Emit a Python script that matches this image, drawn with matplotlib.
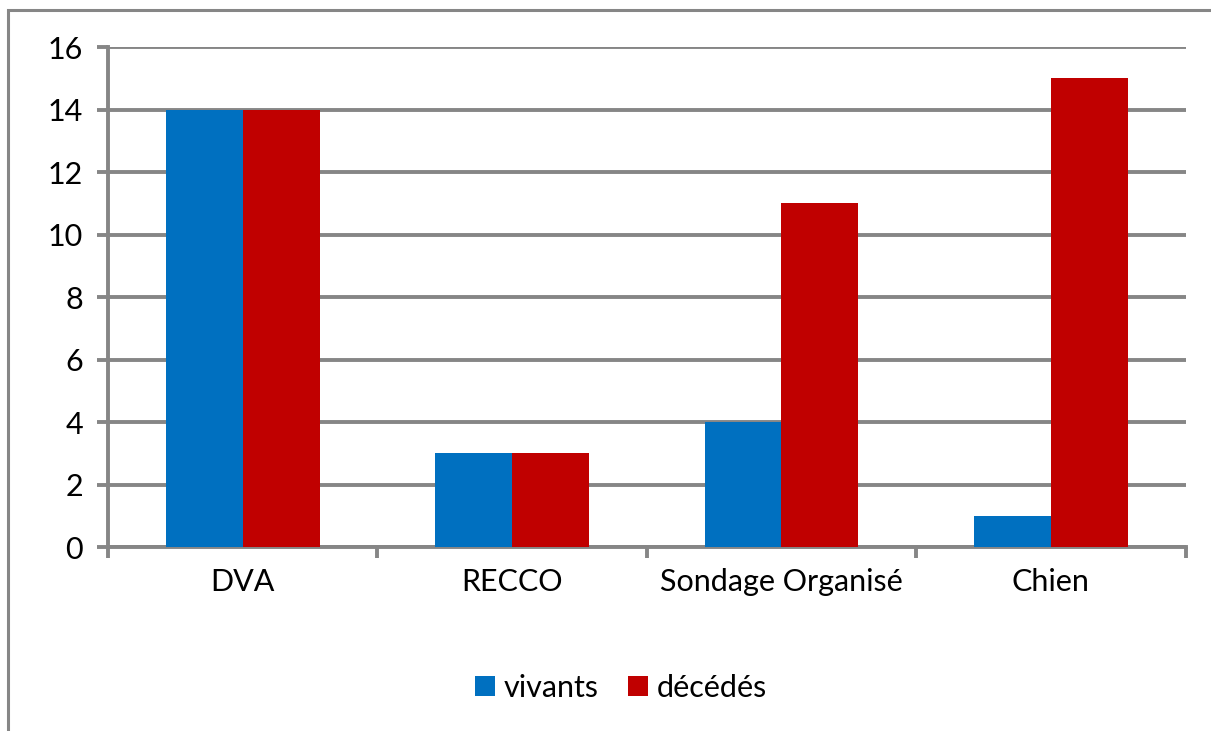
import matplotlib.pyplot as plt
import numpy as np
from matplotlib.patches import Patch, Rectangle

plt.rcParams.update({
    "font.family": ["Lato", "DejaVu Sans"],
    "font.size": 22,
})

categories = ["DVA", "RECCO", "Sondage Organisé", "Chien"]
vivants = [14, 3, 4, 1]
decedes = [14, 3, 11, 15]
series_labels = ["vivants", "décédés"]
colors = ["#0070C0", "#C00000"]
grid_color = "#868686"
lw = 2.8

fig = plt.figure(figsize=(12.11, 7.31), dpi=100)
ax = fig.add_axes([0.0892, 0.2517, 0.8898, 0.684])

# cadre gris autour du graphique
fig.patches.append(Rectangle((8 / 1211, -0.05), 1.2, 1 - 10 / 731 + 0.05,
                             transform=fig.transFigure, fill=False,
                             edgecolor=grid_color, linewidth=2.2, zorder=0))

x = np.arange(len(categories))
w = 1 / 3.5
ax.bar(x - w / 2, vivants, width=w, color=colors[0], zorder=3)
ax.bar(x + w / 2, decedes, width=w, color=colors[1], zorder=3)

ax.set_xlim(-0.5, len(categories) - 0.5)
ax.set_ylim(0, 16)
ax.set_yticks(range(0, 17, 2))
ax.yaxis.grid(True, color=grid_color, linewidth=lw, zorder=0)
ax.set_axisbelow(True)

ax.set_xticks(np.arange(-0.5, len(categories), 1))
ax.set_xticklabels([])
ax.set_xticks(x, minor=True)
ax.set_xticklabels(categories, minor=True)
ax.tick_params(axis="x", which="minor", length=0, pad=15, labelsize=22)
ax.tick_params(axis="x", which="major", length=8, width=lw, color=grid_color)
ax.tick_params(axis="y", length=8, width=lw, color=grid_color, pad=10, labelsize=22)

for side in ["top", "right"]:
    ax.spines[side].set_visible(False)
for side in ["left", "bottom"]:
    ax.spines[side].set_color(grid_color)
    ax.spines[side].set_linewidth(lw)

handles = [Patch(facecolor=c, label=l) for c, l in zip(colors, series_labels)]
fig.legend(handles=handles, loc="center", bbox_to_anchor=(0.513, 0.059),
           ncol=2, frameon=False, fontsize=22, handlelength=0.65,
           handleheight=0.65, handletextpad=0.3, columnspacing=0.95)

fig.savefig("out.png", dpi=100)
